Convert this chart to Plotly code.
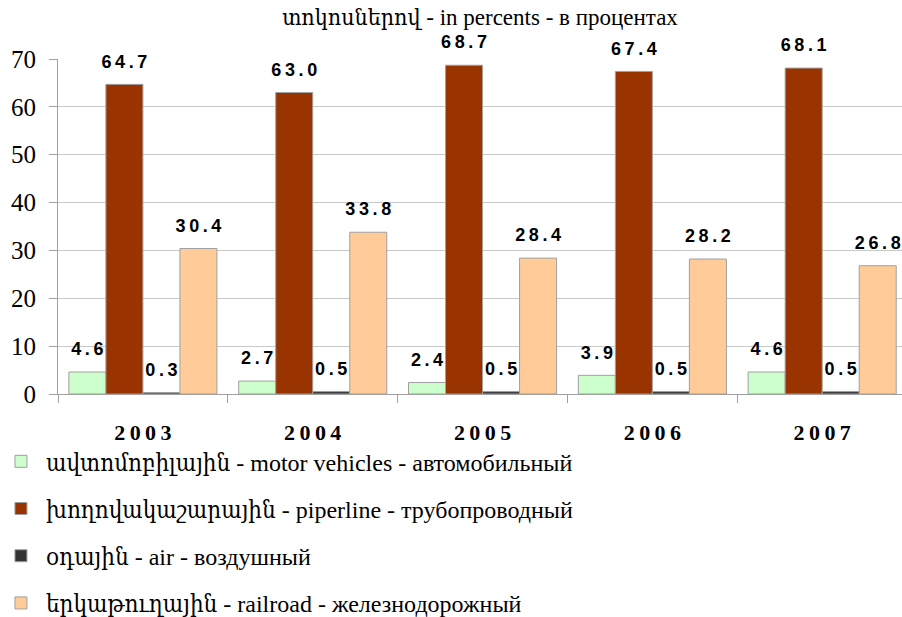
import plotly.graph_objects as go

years = ["2003", "2004", "2005", "2006", "2007"]
motor = [4.6, 2.7, 2.4, 3.9, 4.6]
pipeline = [64.7, 63.0, 68.7, 67.4, 68.1]
air = [0.3, 0.5, 0.5, 0.5, 0.5]
railroad = [30.4, 33.8, 28.4, 28.2, 26.8]

names = [
    "ավտոմոբիլային - motor vehicles - автомобильный",
    "խողովակաշարային - piperline - трубопроводный",
    "օդային - air - воздушный",
    "երկաթուղային - railroad - железнодорожный",
]
colors = ["#ccffcc", "#993300", "#333333", "#ffcc99"]
series = [motor, pipeline, air, railroad]

SERIF = "Liberation Serif, DejaVu Serif Condensed, DejaVu Serif, serif"
TS = "\u2009"
GAP = 0.128


def spaced(s):
    return TS.join(s)


fig = go.Figure()
for i, (nm, col, vals) in enumerate(zip(names, colors, series)):
    fig.add_trace(go.Bar(
        x=years, y=vals, name=nm,
        marker=dict(color=col, line=dict(color="#a0a0a0", width=1)),
        offsetgroup=f"g{i}",
        legendgroup=f"g{i}",
    ))
for i, vals in enumerate(series):
    fig.add_trace(go.Scatter(
        x=years, y=vals, mode="markers+text",
        text=[spaced(f"{v:.1f}") for v in vals],
        textposition="top center",
        textfont=dict(family="Liberation Sans, Arial, sans-serif", size=18,
                      color="black", weight="bold"),
        marker=dict(size=18, color="rgba(0,0,0,0)"),
        offsetgroup=f"g{i}",
        showlegend=False, hoverinfo="skip",
        cliponaxis=False,
    ))

fig.update_layout(
    width=902, height=617,
    margin=dict(l=58, r=0, t=59, b=223, autoexpand=False),
    paper_bgcolor="white", plot_bgcolor="white",
    barmode="group", bargap=GAP, bargroupgap=0,
    scattermode="group", scattergap=GAP,
    title=dict(text="տոկոսներով - in percents - в процентах",
               font=dict(family=SERIF, size=23, color="black"),
               xref="paper", x=0.5, xanchor="center",
               y=0.972, yanchor="middle"),
    showlegend=True,
    legend=dict(orientation="v", x=-0.0735, xanchor="left", y=-0.135,
                yanchor="top", font=dict(family=SERIF, size=24, color="black"),
                bgcolor="rgba(0,0,0,0)",
                tracegroupgap=13, traceorder="grouped", itemwidth=40),
)
fig.update_xaxes(
    type="category", range=[-0.5, 4.47],
    tickvals=years, ticktext=[spaced(y) for y in years],
    tickfont=dict(family=SERIF, size=22, color="black", weight="bold"),
    tickson="boundaries", ticks="outside", ticklen=8, tickcolor="#a0a0a0",
    ticklabelstandoff=19,
    showline=True, linecolor="#a0a0a0", linewidth=1,
    showgrid=False, automargin=False,
)
fig.update_yaxes(
    range=[0, 70], dtick=10,
    tickfont=dict(family=SERIF, size=25, color="black"),
    ticks="outside", ticklen=8, tickcolor="#a0a0a0",
    ticklabelstandoff=8,
    showline=True, linecolor="#a0a0a0", linewidth=1,
    showgrid=True, gridcolor="#c8c8c8", gridwidth=1,
    zeroline=False, automargin=False,
)

fig.write_html(
    "out.html",
    config={"displayModeBar": False},
    post_script="document.body.style.margin='0';document.body.style.overflow='hidden';",
)
